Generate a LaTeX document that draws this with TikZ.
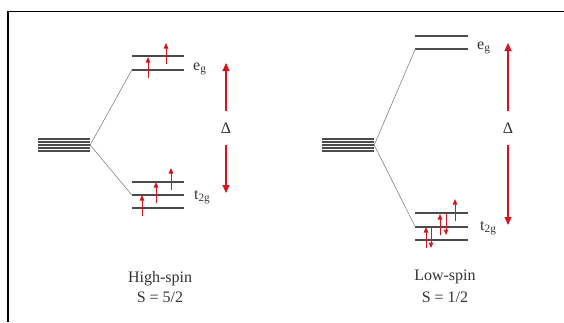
\documentclass[tikz,border=0pt]{standalone}
\usepackage{fontspec}
\setmainfont{Liberation Serif}
\usetikzlibrary{arrows.meta}
\definecolor{lvl}{RGB}{75,75,75}
\definecolor{spinred}{RGB}{215,20,30}
\begin{document}
\begin{tikzpicture}[x=1pt,y=-1pt,
  levelnode/.style={inner sep=0pt, minimum width=52pt, minimum height=0pt},
  degnode/.style={inner sep=0pt, minimum width=52pt, minimum height=12pt},
  lvline/.style={draw=lvl, line width=1.5pt},
  degline/.style={draw=lvl, line width=1.3pt},
  splitline/.style={draw=black!55, line width=0.5pt},
  spin/.style={draw=spinred, line width=1pt, -{Triangle[length=5.5pt,width=4.5pt]}},
  gaparrow/.style={draw=spinred, line width=1.1pt, -{Triangle[length=8pt,width=7pt]}},
  lbl/.style={font=\fontsize{16}{16}\selectfont, inner sep=0pt, anchor=base west, text=black!80},
  dlt/.style={font=\fontsize{16}{16}\selectfont, inner sep=0pt, minimum height=34pt, text=black!80},
  captxt/.style={font=\fontsize{16}{16}\selectfont, inner sep=0pt, anchor=base, text=black!80}]
\useasboundingbox (0,0) rectangle (564,322);
% frame (cropped)
\coordinate (fTR) at (564,11);
\coordinate (fTL) at (8,11);
\coordinate (fBL) at (8,322);
\draw[line width=1pt] (fTR) -- (fTL);
\draw[line width=2pt] (fTL) -- (fBL);

% ---------- High-spin ----------
\node[degnode] (dA) at (64,145) {};
\foreach \k in {0,...,4}{\draw[degline] ([yshift=-6pt+3*\k pt]dA.west) -- ([yshift=-6pt+3*\k pt]dA.east);}
\node[levelnode] (egA1) at (158,56) {};
\node[levelnode] (egA2) at (158,70) {};
\node[levelnode] (tA1) at (158,182) {};
\node[levelnode] (tA2) at (158,195) {};
\node[levelnode] (tA3) at (158,208) {};
\foreach \n in {egA1,egA2,tA1,tA2,tA3}{\draw[lvline] (\n.west) -- (\n.east);}
\draw[splitline] (dA.east) -- (egA2.west);
\draw[splitline] (dA.east) -- (tA2.west);
% spins
\draw[spin] (148,78) -- (148,57);
\draw[spin] (166,64) -- (166,43);
\draw[spin] (142,216) -- (142,195);
\draw[spin] (156,203) -- (156,182);
\draw[spin] (171,190) -- (171,168);
% labels
\node[lbl] (egAl) at (193,70) {e\textsubscript{g}};
\node[lbl] (tAl) at (194,199) {t\textsubscript{2g}};
% Delta
\node[dlt] (DA) at (226,128) {Δ};
\coordinate (DAt) at (226,63);
\coordinate (DAb) at (226,193);
\draw[gaparrow] (DA.north) -- (DAt);
\draw[gaparrow] (DA.south) -- (DAb);
\node[captxt] (capA1) at (160,282) {High-spin};
\node[captxt] (capA2) at (160,302) {S = 5/2};

% ---------- Low-spin ----------
\node[degnode] (dB) at (348,145) {};
\foreach \k in {0,...,4}{\draw[degline] ([yshift=-6pt+3*\k pt]dB.west) -- ([yshift=-6pt+3*\k pt]dB.east);}
\node[levelnode] (egB1) at (441.5,36) {};
\node[levelnode] (egB2) at (441.5,49) {};
\node[levelnode] (tB1) at (441.5,213) {};
\node[levelnode] (tB2) at (441.5,227) {};
\node[levelnode] (tB3) at (441.5,240) {};
\foreach \n in {egB1,egB2,tB1,tB2,tB3}{\draw[lvline] (\n.west) -- (\n.east);}
\draw[splitline] (dB.east) -- (egB2.west);
\draw[splitline] (dB.east) -- (tB2.west);
% spins
\draw[spin] (426,248) -- (426,227);
\draw[spin] (431,227) -- (431,248);
\draw[spin] (440,235) -- (440,214);
\draw[spin] (446,214) -- (446,235);
\draw[spin] (455,221) -- (455,199);
% labels
\node[lbl] (egBl) at (477,49) {e\textsubscript{g}};
\node[lbl] (tBl) at (480,230) {t\textsubscript{2g}};
% Delta
\node[dlt] (DB) at (508,128) {Δ};
\coordinate (DBt) at (508,43);
\coordinate (DBb) at (508,225);
\draw[gaparrow] (DB.north) -- (DBt);
\draw[gaparrow] (DB.south) -- (DBb);
\node[captxt] (capB1) at (445,280) {Low-spin};
\node[captxt] (capB2) at (445,302) {S = 1/2};
\end{tikzpicture}
\end{document}
